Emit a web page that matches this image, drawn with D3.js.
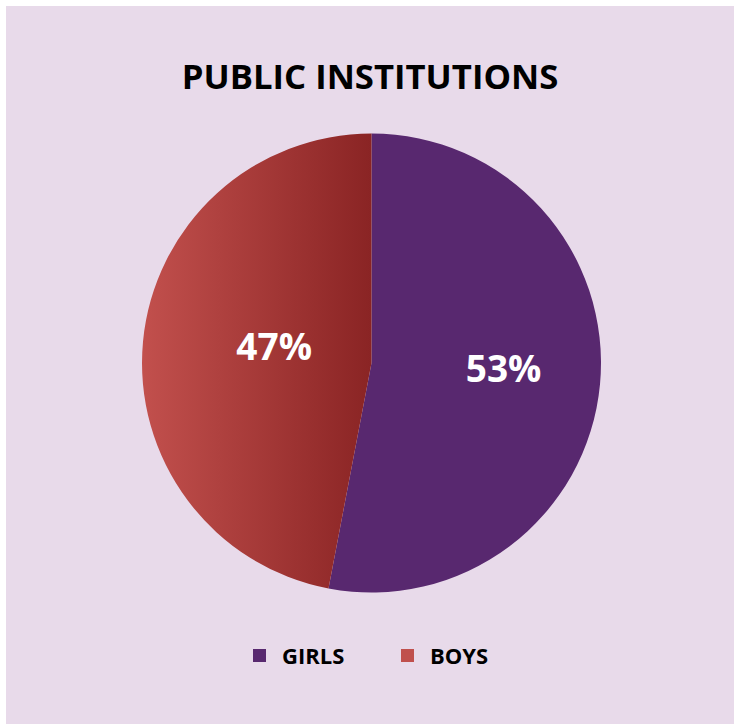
<!DOCTYPE html>
<html><head><meta charset="utf-8">
<script src="https://cdn.jsdelivr.net/npm/d3@7"></script>
<style>body{margin:0;background:#fff;}svg{display:block;}</style>
</head><body>
<script>
const categories = ["GIRLS", "BOYS"];
const values = [53, 47];
const labels = ["53%", "47%"];
const labelRadius = [0.578, 0.426];
const title = "PUBLIC INSTITUTIONS";

const W = 734, H = 724;
const svg = d3.select("body").append("svg").attr("width", W).attr("height", H);
svg.append("rect").attr("x", 6).attr("y", 6).attr("width", W).attr("height", H).attr("fill", "#E8DAEA");

const cx = 371.5, cy = 363, r = 229.5;

const defs = svg.append("defs");
const grad = defs.append("linearGradient").attr("id", "boysGrad")
  .attr("gradientUnits", "userSpaceOnUse").attr("x1", -r).attr("x2", 0).attr("y1", 0).attr("y2", 0);
grad.append("stop").attr("offset", "0%").attr("stop-color", "#C2504D");
grad.append("stop").attr("offset", "100%").attr("stop-color", "#8A2424");

const colors = ["#58286F", "url(#boysGrad)"];
const legendColors = ["#58286F", "#C0504D"];

svg.append("text").attr("x", 370).attr("y", 89).attr("text-anchor", "middle")
  .attr("font-family", "'Open Sans', sans-serif").attr("font-weight", "bold").attr("font-size", 34.7)
  .attr("fill", "#000").text(title);

const pie = d3.pie().sort(null).value(d => d)(values);
const arc = d3.arc().innerRadius(0).outerRadius(r);
const g = svg.append("g").attr("transform", `translate(${cx},${cy})`);
g.selectAll("path").data(pie).enter().append("path")
  .attr("d", arc).attr("fill", (d, i) => colors[i]);

g.selectAll("text.lbl").data(pie).enter().append("text")
  .attr("class", "lbl")
  .attr("transform", (d, i) => {
    const la = d3.arc().innerRadius(r * labelRadius[i]).outerRadius(r * labelRadius[i]);
    const c = la.centroid(d); return `translate(${c[0]},${c[1]})`; })
  .attr("text-anchor", "middle").attr("dy", "0.17em")
  .attr("font-family", "'Open Sans', sans-serif").attr("font-weight", "bold").attr("font-size", 37)
  .attr("fill", "#fff").text((d, i) => labels[i]);

const lg = svg.append("g");
const lx = [253, 401];
categories.forEach((c, i) => {
  lg.append("rect").attr("x", lx[i]).attr("y", 649).attr("width", 13).attr("height", 13).attr("fill", legendColors[i]);
  lg.append("text").attr("x", lx[i] + 29).attr("y", 664)
    .attr("font-family", "'Open Sans', sans-serif").attr("font-weight", "bold").attr("font-size", 22)
    .attr("fill", "#000").text(c);
});
</script>
</body></html>
